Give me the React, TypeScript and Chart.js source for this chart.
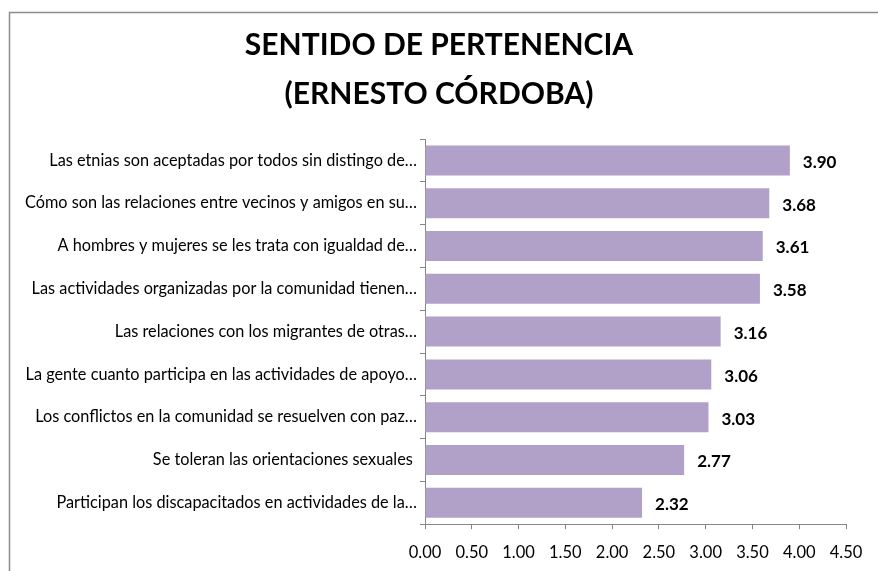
import React, { useEffect, useRef } from "react";
import { Chart, registerables } from "chart.js";

Chart.register(...registerables);

const titleLines = ["SENTIDO DE PERTENENCIA", "(ERNESTO CÓRDOBA)"];
const categories = [
  "Las etnias son aceptadas por todos sin distingo de…",
  "Cómo son las relaciones entre vecinos y amigos en su…",
  "A hombres y mujeres se les trata con igualdad de…",
  "Las actividades organizadas por la comunidad tienen…",
  "Las relaciones con los migrantes de otras…",
  "La gente cuanto participa en las actividades de apoyo…",
  "Los conflictos en la comunidad se resuelven con paz…",
  "Se toleran las orientaciones sexuales ",
  "Participan los discapacitados en actividades de la…",
];
const values = [3.9, 3.68, 3.61, 3.58, 3.16, 3.06, 3.03, 2.77, 2.32];
const xMin = 0;
const xMax = 4.5;
const xStep = 0.5;

const FONT = "Lato, 'Open Sans', sans-serif";
const AXIS_COLOR = "#868686";

const frame = {
  id: "frame",
  beforeDraw(chart: any) {
    const ctx = chart.ctx;
    ctx.save();
    ctx.fillStyle = "#ffffff";
    ctx.fillRect(0, 0, chart.width, chart.height);
    ctx.strokeStyle = "#8c8c8c";
    ctx.lineWidth = 1.5;
    ctx.beginPath();
    ctx.moveTo(9.5, chart.height + 5);
    ctx.lineTo(9.5, 12.5);
    ctx.lineTo(chart.width + 5, 12.5);
    ctx.stroke();
    // title
    ctx.fillStyle = "#000000";
    ctx.font = `bold 30px ${FONT}`;
    ctx.textAlign = "center";
    ctx.textBaseline = "middle";
    ctx.fillText(titleLines[0], chart.width / 2, 45);
    ctx.fillText(titleLines[1], chart.width / 2, 94);
    ctx.restore();
  },
};

const valueLabels = {
  id: "valueLabels",
  afterDatasetsDraw(chart: any) {
    const ctx = chart.ctx;
    const meta = chart.getDatasetMeta(0);
    ctx.save();
    ctx.font = `bold 17px ${FONT}`;
    ctx.fillStyle = "#000000";
    ctx.textAlign = "left";
    ctx.textBaseline = "middle";
    meta.data.forEach((bar: any, i: number) => {
      const v = chart.data.datasets[0].data[i] as number;
      ctx.fillText(v.toFixed(2), bar.x + 13, bar.y + 2);
    });
    ctx.restore();
  },
};

export default function App() {
  const ref = useRef<HTMLCanvasElement>(null);
  useEffect(() => {
    if (!ref.current) return;
    const chart = new Chart(ref.current, {
      type: "bar",
      data: {
        labels: categories,
        datasets: [
          {
            data: values,
            backgroundColor: "#B1A0C7",
            borderWidth: 0,
            categoryPercentage: 1,
            barPercentage: 0.7,
          },
        ],
      },
      options: {
        indexAxis: "y",
        animation: false,
        responsive: false,
        layout: { padding: { left: 0, right: 32, top: 139, bottom: -6 } },
        plugins: {
          legend: { display: false },
          tooltip: { enabled: false },
          title: { display: false },
        },
        scales: {
          x: {
            min: xMin,
            max: xMax,
            border: { display: true, color: AXIS_COLOR, width: 1 },
            grid: {
              display: true,
              drawOnChartArea: false,
              drawTicks: true,
              tickLength: 5,
              color: AXIS_COLOR,
            },
            ticks: {
              stepSize: xStep,
              color: "#000000",
              font: { family: FONT, size: 16.5 },
              padding: 14,
              callback: (v: any) => Number(v).toFixed(2),
            },
          },
          y: {
            border: { display: true, color: AXIS_COLOR, width: 1 },
            grid: {
              display: true,
              offset: true,
              drawOnChartArea: false,
              drawTicks: true,
              tickLength: 5,
              color: AXIS_COLOR,
            },
            ticks: {
              color: "#000000",
              font: { family: FONT, size: 16.3 },
              padding: 3,
              autoSkip: false,
            },
            afterFit: (scale: any) => {
              scale.width = 425;
            },
          },
        },
      },
      plugins: [frame, valueLabels],
    });
    return () => chart.destroy();
  }, []);
  return (
    <div style={{ position: "fixed", left: 0, top: 0, width: 878, height: 571 }}>
      <canvas ref={ref} width={878} height={571} style={{ display: "block" }} />
    </div>
  );
}
